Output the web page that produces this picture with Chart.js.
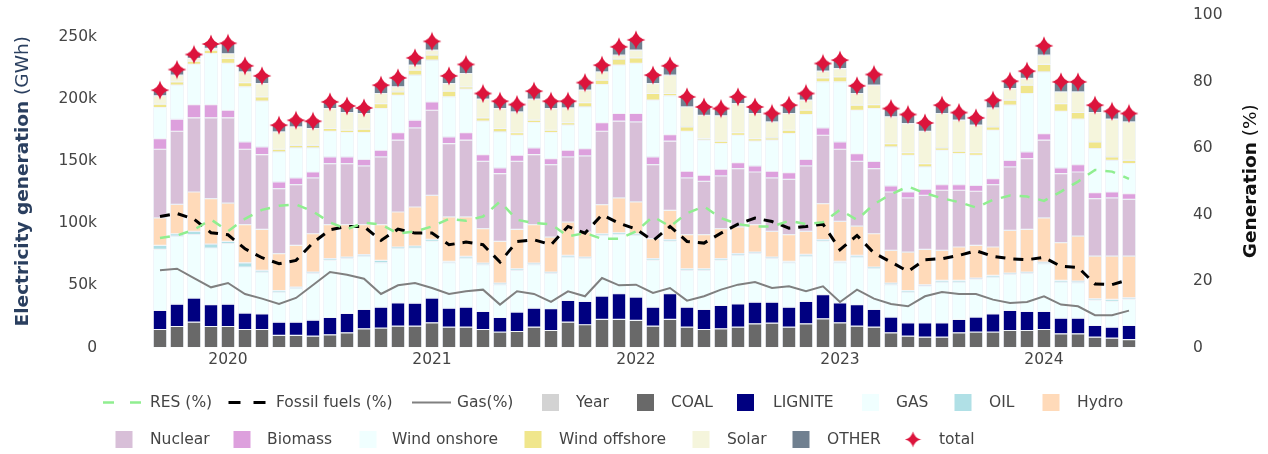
<!DOCTYPE html>
<html><head><meta charset="utf-8">
<script src="https://cdn.jsdelivr.net/npm/chart.js@4.4.1/dist/chart.umd.min.js"></script>
<style>html,body{margin:0;padding:0;background:#fff;}canvas{display:block;}</style>
</head><body>
<canvas id="c" width="1268" height="454"></canvas>
<script>
// ---------- DATA (generation in thousands of GWh, shares in %) ----------
const categories = [
 '2019-09','2019-10','2019-11','2019-12',
 '2020-01','2020-02','2020-03','2020-04','2020-05','2020-06','2020-07','2020-08','2020-09','2020-10','2020-11','2020-12',
 '2021-01','2021-02','2021-03','2021-04','2021-05','2021-06','2021-07','2021-08','2021-09','2021-10','2021-11','2021-12',
 '2022-01','2022-02','2022-03','2022-04','2022-05','2022-06','2022-07','2022-08','2022-09','2022-10','2022-11','2022-12',
 '2023-01','2023-02','2023-03','2023-04','2023-05','2023-06','2023-07','2023-08','2023-09','2023-10','2023-11','2023-12',
 '2024-01','2024-02','2024-03','2024-04','2024-05','2024-06'];

const coal = [14.5,16.9,20.4,16.9,16.9,14.5,14.5,9.7,9.7,9.1,
 10.2,11.8,15.0,15.6,17.2,17.2,19.9,16.4,16.4,14.5,
 12.4,12.9,16.4,13.7,20.4,18.3,22.6,22.6,21.8,17.2,
 22.6,16.4,14.5,15.0,16.4,19.1,19.6,16.4,19.1,23.1,
 19.9,17.2,16.4,11.8,9.1,8.3,8.3,11.8,12.4,12.4,
 13.7,13.7,14.5,11.0,11.0,8.3,7.5,6.4];
const lignite = [15.3,18.0,19.4,17.5,18.0,13.2,12.6,10.7,10.7,12.9,
 14.0,15.6,15.6,16.9,18.8,18.5,19.9,15.3,16.1,14.5,
 11.8,15.6,15.3,17.5,17.5,18.8,18.8,20.7,18.8,15.3,
 20.7,16.1,16.1,18.9,18.8,17.4,16.9,16.1,18.0,19.4,
 16.1,17.2,14.2,12.7,10.8,11.6,11.6,10.8,12.1,14.7,
 16.1,15.3,14.5,12.6,12.6,9.4,8.9,11.3];
const gas = [49.2,54.8,51.0,45.7,48.7,37.1,33.6,24.2,26.9,37.4,
 45.9,44.1,43.0,35.7,43.5,44.4,45.6,36.5,39.5,37.6,
 26.3,33.6,34.9,28.2,34.9,34.4,48.9,47.5,49.7,37.6,
 42.1,29.6,31.5,36.2,39.0,39.0,35.0,35.7,36.5,42.9,
 32.2,38.4,32.8,26.0,24.7,29.5,32.8,30.1,30.3,29.6,
 28.8,30.4,38.4,29.1,28.5,20.2,20.7,21.0];
const oil = [3.2,1.9,2.7,3.2,1.8,3.4,1.4,1.3,1.3,1.3,
 1.4,1.3,1.1,1.9,1.4,1.6,1.7,1.1,1.4,1.4,
 1.4,1.3,1.4,1.3,1.4,1.3,1.3,1.6,1.3,1.4,
 1.4,1.3,1.3,1.4,1.3,1.3,1.3,1.1,1.4,1.4,
 1.1,1.4,1.4,1.4,1.3,1.1,1.3,1.3,1.1,1.3,
 1.3,1.3,1.4,1.3,1.4,1.3,1.6,1.3];
const hydro = [22.1,23.7,31.7,36.5,30.9,30.7,33.0,29.6,33.6,30.9,
 27.4,26.1,24.2,28.8,28.2,31.4,35.4,35.8,31.7,27.7,
 33.5,31.7,30.9,28.2,26.8,20.2,23.4,28.0,25.6,16.1,
 23.6,27.4,27.4,24.2,21.5,22.1,20.7,21.5,18.5,29.0,
 32.3,23.6,26.8,26.3,30.9,28.5,24.2,26.9,26.3,22.9,
 34.4,34.4,35.5,30.4,36.2,34.4,34.9,33.6];
const nuclear = [55.3,58.8,59.7,65.1,68.6,60.7,60.2,52.4,48.9,44.9,
 49.1,49.1,47.3,54.5,57.8,63.7,68.5,59.1,61.8,54.2,
 54.6,54.8,56.4,58.3,52.4,61.2,59.1,61.8,64.4,59.6,
 55.7,45.7,43.0,42.4,47.0,42.4,43.0,44.6,52.7,55.1,
 58.0,52.1,52.4,47.0,43.6,43.5,48.4,45.7,43.6,50.2,
 51.1,57.0,62.6,55.6,51.6,46.2,46.8,45.7];
const biomass = [8.6,9.7,10.7,10.7,6.1,5.9,6.2,5.4,5.4,4.8,
 5.4,5.4,5.3,5.4,6.1,6.2,6.8,5.3,6.1,5.4,
 4.6,4.9,5.4,4.9,5.4,5.9,7.0,6.2,6.8,6.2,
 5.3,5.4,4.9,5.4,4.9,4.9,5.4,5.4,5.3,5.9,
 5.9,6.2,5.9,4.9,4.8,4.9,4.5,4.5,4.8,4.9,
 5.3,5.4,5.3,4.6,5.9,4.9,4.8,4.6];
const windOnshore = [25.0,27.4,32.3,41.1,37.7,44.4,36.8,24.2,24.2,19.4,
 20.7,19.6,21.5,33.6,30.1,36.3,33.6,32.3,35.0,26.9,
 29.0,16.1,20.4,20.9,20.2,33.6,30.6,38.9,40.3,45.7,
 31.2,32.2,28.2,20.7,22.0,19.9,25.0,31.4,36.1,37.1,
 48.4,34.9,42.5,31.4,29.6,18.0,27.7,25.0,24.2,38.9,
 44.4,47.0,49.7,45.6,36.6,35.4,25.5,24.2];
const windOffshore = [2.7,2.7,2.6,2.7,4.0,3.4,3.5,2.1,2.1,2.1,
 2.2,1.9,2.7,4.0,2.7,4.0,4.0,4.6,1.9,2.7,
 2.7,2.1,1.9,1.9,2.1,3.5,3.5,4.9,4.5,5.4,
 1.9,3.5,1.3,1.9,2.1,2.1,1.8,2.7,3.4,3.2,
 4.0,4.1,3.2,2.7,2.1,2.7,1.9,1.9,2.1,2.7,
 4.0,6.7,6.0,6.2,5.4,5.4,2.7,2.6];
const solar = [6.7,5.4,2.2,1.5,3.8,8.6,10.7,14.0,14.8,13.5,
 16.1,14.3,12.7,8.1,4.1,4.0,4.0,6.1,10.7,15.0,
 16.1,16.7,16.9,17.5,11.8,10.0,6.7,3.2,6.2,8.0,
 14.8,16.1,18.8,20.4,23.4,20.2,12.9,13.5,8.1,5.4,
 6.7,9.4,15.6,21.5,23.4,26.0,27.7,25.0,22.1,15.3,
 9.4,5.4,7.5,9.4,16.6,23.7,30.4,30.9];
const other = [4.6,4.5,3.2,3.5,8.5,4.9,6.2,5.4,5.4,5.9,
 5.4,5.3,4.5,6.7,7.2,5.9,7.1,6.2,7.3,4.6,
 5.9,5.9,6.5,5.9,5.4,6.1,5.4,6.7,8.3,6.8,
 7.5,8.1,6.7,5.9,5.4,5.3,6.8,6.7,5.4,6.2,
 6.8,6.2,8.6,6.7,7.3,6.7,6.7,6.2,5.9,6.2,
 5.9,5.9,7.5,8.1,8.1,5.9,6.4,6.8];
const total = [207.2,223.8,235.9,244.4,245.0,226.8,218.7,179.0,183.0,182.2,
 197.8,194.5,192.9,211.2,217.1,233.2,246.5,218.7,227.9,204.5,
 198.3,195.6,206.4,198.3,198.3,213.3,227.3,242.1,247.7,219.3,
 226.8,201.8,193.7,192.4,201.8,193.7,188.4,195.1,204.5,228.7,
 231.4,210.7,219.8,192.4,187.6,180.8,195.1,189.2,184.9,199.1,
 214.4,222.5,242.9,213.9,213.9,195.1,190.2,188.4];
const resPct = [32.9,33.7,35.4,38.5,35.0,38.7,41.4,42.6,43.0,40.9,
 37.6,35.6,37.5,37.0,34.3,34.9,36.4,38.7,38.1,39.4,
 43.9,38.4,37.4,37.1,33.4,34.4,32.7,32.7,34.9,39.4,
 36.4,40.4,42.4,38.9,37.1,36.4,36.4,38.1,37.1,37.7,
 41.4,38.4,43.1,46.1,48.4,46.4,44.9,43.7,42.1,44.4,
 45.7,45.4,44.1,46.9,49.9,53.4,52.9,50.7];
const fossilPct = [39.4,40.3,38.6,34.5,33.9,29.7,27.0,25.2,26.2,31.5,
 35.4,36.4,36.4,32.2,35.6,34.4,34.4,30.9,31.7,30.9,
 25.7,31.9,32.4,30.9,36.4,34.4,39.9,37.4,35.6,32.1,
 36.4,31.9,31.4,34.4,37.1,38.9,37.9,35.9,36.4,37.1,
 29.4,33.7,28.4,25.7,22.9,26.4,26.7,27.7,29.1,27.4,
 26.7,26.4,27.1,24.4,24.1,19.1,18.9,20.4];
const gasPct = [23.2,23.7,20.9,18.1,19.4,16.1,14.7,13.1,14.9,18.8,
 22.7,21.9,20.7,16.1,18.7,19.4,17.9,16.1,16.9,17.4,
 12.9,16.9,16.1,13.7,16.9,15.4,20.9,18.7,18.9,16.4,
 17.9,14.1,15.4,17.4,18.9,19.7,17.9,18.4,16.9,18.4,
 13.7,17.4,14.7,13.1,12.4,15.4,16.7,16.1,16.1,14.4,
 13.4,13.7,15.4,12.9,12.4,9.7,9.7,11.1];

const leftTickValues = [0, 50, 100, 150, 200, 250];
const leftTickLabels = ['0', '50k', '100k', '150k', '200k', '250k'];
const rightTickValues = [0, 20, 40, 60, 80, 100];
const rightTickLabels = ['0', '20', '40', '60', '80', '100'];

// ---------- STYLE ----------
const FONT = '"DejaVu Sans", Verdana, sans-serif';
Chart.defaults.font.family = FONT;
Chart.defaults.font.size = 15.5;
Chart.defaults.color = '#444';

function makeStar(size, color) {
  const c = document.createElement('canvas');
  c.width = size; c.height = size;
  const g = c.getContext('2d');
  const m = size / 2, r = size / 2 - 0.5, k = r * 0.2;
  g.beginPath();
  g.moveTo(m, m - r);
  g.quadraticCurveTo(m + k, m - k, m + r, m);
  g.quadraticCurveTo(m + k, m + k, m, m + r);
  g.quadraticCurveTo(m - k, m + k, m - r, m);
  g.quadraticCurveTo(m - k, m - k, m, m - r);
  g.closePath();
  g.fillStyle = color;
  g.fill();
  return c;
}
const STAR_COLOR = '#DC143C';
const starImg = makeStar(20, STAR_COLOR);
const starLegend = makeStar(17, STAR_COLOR);

const barSeries = [
  ['Year', [], '#D3D3D3'],
  ['COAL', coal, '#696969'],
  ['LIGNITE', lignite, '#000080'],
  ['GAS', gas, '#F0FFFF'],
  ['OIL', oil, '#B0E0E6'],
  ['Hydro', hydro, '#FFDAB9'],
  ['Nuclear', nuclear, '#D8BFD8'],
  ['Biomass', biomass, '#DDA0DD'],
  ['Wind onshore', windOnshore, '#F0FFFF'],
  ['Wind offshore', windOffshore, '#F0E68C'],
  ['Solar', solar, '#F5F5DC'],
  ['OTHER', other, '#708090']
];
const lineSeries = [
  ['RES (%)', resPct, '#90EE90', 2.5, [10, 9]],
  ['Fossil fuels (%)', fossilPct, '#000000', 3, [10, 8]],
  ['Gas(%)', gasPct, '#808080', 2, []]
];

const datasets = [];
lineSeries.forEach(([label, data, color, w, dash]) => {
  datasets.push({
    type: 'line', label, data, yAxisID: 'y2', order: 1,
    borderColor: color, backgroundColor: color, borderWidth: w, borderDash: dash,
    pointRadius: 0, tension: 0, fill: false
  });
});
barSeries.forEach(([label, data, color]) => {
  datasets.push({
    type: 'bar', label, data, yAxisID: 'y', order: 2,
    backgroundColor: color, borderColor: 'rgba(220,228,240,0.9)',
    borderWidth: 0.6, borderSkipped: false,
    barPercentage: 0.8, categoryPercentage: 1.0
  });
});
datasets.push({
  type: 'line', label: 'total', data: total, yAxisID: 'yT', order: 0,
  showLine: false, pointStyle: starImg, pointRadius: 10,
  borderColor: STAR_COLOR, backgroundColor: STAR_COLOR
});

const legendItems = [
  {row: 0, cx: 122.5, tx: 150, kind: 'line', color: '#90EE90', w: 2.5, dash: [11, 16], label: 'RES (%)'},
  {row: 0, cx: 248, tx: 276, kind: 'line', color: '#000000', w: 3, dash: [12, 13], label: 'Fossil fuels (%)'},
  {row: 0, cx: 431.5, tx: 457, kind: 'line', color: '#808080', w: 2, dash: [], label: 'Gas(%)'},
  {row: 0, cx: 550.5, tx: 576, kind: 'box', color: '#D3D3D3', label: 'Year'},
  {row: 0, cx: 645.5, tx: 671, kind: 'box', color: '#696969', label: 'COAL'},
  {row: 0, cx: 745.5, tx: 773, kind: 'box', color: '#000080', label: 'LIGNITE'},
  {row: 0, cx: 870.5, tx: 896, kind: 'box', color: '#F0FFFF', label: 'GAS'},
  {row: 0, cx: 963, tx: 989, kind: 'box', color: '#B0E0E6', label: 'OIL'},
  {row: 0, cx: 1051, tx: 1077, kind: 'box', color: '#FFDAB9', label: 'Hydro'},
  {row: 1, cx: 124, tx: 150, kind: 'box', color: '#D8BFD8', label: 'Nuclear'},
  {row: 1, cx: 242, tx: 267, kind: 'box', color: '#DDA0DD', label: 'Biomass'},
  {row: 1, cx: 368, tx: 392, kind: 'box', color: '#F0FFFF', label: 'Wind onshore'},
  {row: 1, cx: 533, tx: 559, kind: 'box', color: '#F0E68C', label: 'Wind offshore'},
  {row: 1, cx: 701, tx: 727, kind: 'box', color: '#F5F5DC', label: 'Solar'},
  {row: 1, cx: 801, tx: 827, kind: 'box', color: '#708090', label: 'OTHER'},
  {row: 1, cx: 913, tx: 939, kind: 'star', color: STAR_COLOR, label: 'total'}
];
const legendRowY = [402.5, 439.5];

const decor = {
  id: 'decor',
  afterDraw(chart) {
    const ctx = chart.ctx;
    const midY = (chart.chartArea.top + chart.chartArea.bottom) / 2;
    function vTitle(x, boldTxt, normTxt, color) {
      ctx.save();
      ctx.translate(x, midY);
      ctx.rotate(-Math.PI / 2);
      ctx.textBaseline = 'middle';
      ctx.textAlign = 'left';
      const bf = 'bold 18.5px ' + FONT, nf = '18.5px ' + FONT;
      ctx.font = bf; const w1 = ctx.measureText(boldTxt).width;
      ctx.font = nf; const w2 = ctx.measureText(normTxt).width;
      const x0 = -(w1 + w2) / 2;
      ctx.fillStyle = color;
      ctx.font = bf; ctx.fillText(boldTxt, x0, 0);
      ctx.font = nf; ctx.fillText(normTxt, x0 + w1, 0);
      ctx.restore();
    }
    vTitle(23, 'Electricity generation', ' (GWh)', '#2a3f5f');
    vTitle(1251, 'Generation', ' (%)', '#111111');

    // legend
    ctx.save();
    ctx.font = '15.5px ' + FONT;
    ctx.textBaseline = 'middle';
    ctx.textAlign = 'left';
    legendItems.forEach(it => {
      const y = legendRowY[it.row];
      if (it.kind === 'line') {
        ctx.save();
        ctx.strokeStyle = it.color; ctx.lineWidth = it.w; ctx.setLineDash(it.dash);
        ctx.beginPath(); ctx.moveTo(it.cx - 19.5, y); ctx.lineTo(it.cx + 19.5, y); ctx.stroke();
        ctx.restore();
      } else if (it.kind === 'box') {
        ctx.fillStyle = it.color;
        ctx.fillRect(it.cx - 8.5, y - 8.5, 17, 17);
      } else {
        ctx.drawImage(starLegend, it.cx - 8.5, y - 8.5);
      }
      ctx.fillStyle = '#444';
      ctx.fillText(it.label, it.tx, y);
    });
    ctx.restore();
  }
};

const LEFT_MAX = 267.7;
new Chart(document.getElementById('c'), {
  type: 'bar',
  data: { labels: categories, datasets },
  options: {
    responsive: false,
    animation: false,
    devicePixelRatio: 1,
    layout: { padding: { top: 15, bottom: 0, left: 0, right: 0 } },
    plugins: { legend: { display: false }, tooltip: { enabled: false } },
    scales: {
      x: {
        stacked: true,
        grid: { display: false, drawTicks: false },
        border: { display: false },
        ticks: {
          autoSkip: false, maxRotation: 0, minRotation: 0, padding: 3,
          color: '#444',
          callback: (v, i) => categories[i].endsWith('-01') ? categories[i].slice(0, 4) : ''
        },
        afterFit: s => { s.height = 106.5; }
      },
      y: {
        position: 'left', stacked: true, min: 0, max: LEFT_MAX,
        grid: { display: false, drawTicks: true, tickLength: 54.5 },
        border: { display: false },
        afterBuildTicks: s => { s.ticks = leftTickValues.map(v => ({ value: v })); },
        ticks: { padding: 0, color: '#444',
          callback: v => leftTickLabels[leftTickValues.indexOf(v)] },
        afterFit: s => { s.width = 151.5; }
      },
      yT: {
        display: false, position: 'left', stacked: false, min: 0, max: LEFT_MAX
      },
      y2: {
        position: 'right', min: 0, max: 100,
        grid: { display: false, drawTicks: true, tickLength: 55.5 },
        border: { display: false },
        afterBuildTicks: s => { s.ticks = rightTickValues.map(v => ({ value: v })); },
        ticks: { padding: 0, color: '#444',
          callback: v => rightTickLabels[rightTickValues.indexOf(v)] },
        afterFit: s => { s.width = 130.5; }
      }
    }
  },
  plugins: [decor]
});
</script>
</body></html>
